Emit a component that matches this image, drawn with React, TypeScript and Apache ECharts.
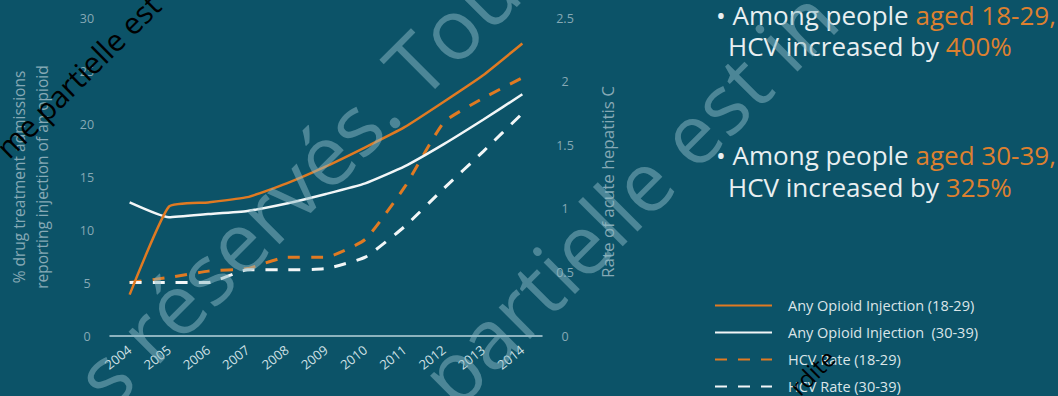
import React, { useEffect, useRef } from "react";
import * as echarts from "echarts";

const years = ["2004", "2005", "2006", "2007", "2008", "2009", "2010", "2011", "2012", "2013", "2014"];
const opioid1829 = [3.9, 12.2, 12.6, 13.1, 14.4, 16.0, 17.8, 19.7, 22.1, 24.6, 27.6];
const opioid3039 = [12.6, 11.2, 11.5, 11.8, 12.5, 13.4, 14.4, 16.0, 18.1, 20.4, 22.8];
const hcv1829 = [0.42, 0.46, 0.51, 0.53, 0.62, 0.62, 0.76, 1.17, 1.68, 1.87, 2.03];
const hcv3039 = [0.42, 0.42, 0.42, 0.52, 0.52, 0.53, 0.62, 0.86, 1.16, 1.45, 1.75];

const seriesNames = [
  "Any Opioid Injection (18-29)",
  "Any Opioid Injection  (30-39)",
  "HCV Rate (18-29)",
  "HCV Rate (30-39)",
];

const leftAxisName = "% drug treatment admissions\nreporting injection of an opioid";
const rightAxisName = "Rate of acute hepatitis C";

const ORANGE = "#e07a22";
const WHITE = "#f2f6f7";
const BG = "#0c5368";
const MUTED = "#86a9b5";
const FONT = "'Open Sans', 'Noto Sans', sans-serif";

const calloutRich = {
  w: { fill: "#e9eff1", color: "#e9eff1", fontSize: 26, fontFamily: FONT },
  o: { fill: "#dd802f", color: "#dd802f", fontSize: 26, fontFamily: FONT },
};

function callout(text: string, x: number, y: number) {
  return {
    type: "text",
    x,
    y,
    z: 50,
    style: {
      text,
      textVerticalAlign: "middle",
      textAlign: "left",
      font: `26px ${FONT}`,
      rich: calloutRich,
    },
  };
}

function mark(text: string, x: number, y: number, size: number, rot: number, fill: string) {
  return {
    type: "text",
    x,
    y,
    z: 95,
    rotation: rot,
    silent: true,
    style: {
      text,
      textAlign: "center",
      textVerticalAlign: "middle",
      font: `${size}px ${FONT}`,
      fill,
    },
  };
}

export default function App() {
  const ref = useRef<HTMLDivElement>(null);

  useEffect(() => {
    if (!ref.current) return;
    const chart = echarts.init(ref.current, null, { renderer: "svg" });
    const dash = [12, 11];
    const smooth = 0.15;
    const option: any = {
      animation: false,
      backgroundColor: BG,
      textStyle: { fontFamily: FONT },
      grid: { left: 110, right: 516, top: 18, bottom: 60, containLabel: false, outerBoundsMode: "none" },
      legend: {
        orient: "vertical",
        left: 714,
        top: 298,
        padding: 0,
        itemWidth: 57,
        itemHeight: 14,
        itemGap: 12,
        data: seriesNames,
        itemStyle: { opacity: 0 },
        textStyle: { color: "#dbe5e8", fontSize: 14.5, fontFamily: FONT, padding: [0, 0, 0, 11] },
      },
      xAxis: {
        type: "category",
        data: years,
        boundaryGap: true,
        axisLine: { show: true, lineStyle: { color: "#b8d3db", width: 1.5 } },
        axisTick: { show: false },
        axisLabel: { rotate: 38, interval: 0, margin: 12, color: "#cfe0e5", fontSize: 13, fontFamily: FONT },
        splitLine: { show: false },
      },
      yAxis: [
        {
          type: "value",
          min: 0,
          max: 30,
          interval: 5,
          position: "left",
          axisLine: { show: false },
          axisTick: { show: false },
          splitLine: { show: false },
          axisLabel: { color: MUTED, fontSize: 12.5, margin: 23, align: "center", fontFamily: FONT },
          name: leftAxisName,
          nameLocation: "middle",
          nameGap: 57,
          nameRotate: 90,
          nameTextStyle: { color: MUTED, fontSize: 15.5, lineHeight: 23, fontFamily: FONT },
        },
        {
          type: "value",
          min: 0,
          max: 2.5,
          interval: 0.5,
          position: "right",
          axisLine: { show: false },
          axisTick: { show: false },
          splitLine: { show: false },
          axisLabel: { color: MUTED, fontSize: 12.5, margin: 23, align: "center", fontFamily: FONT },
          name: rightAxisName,
          nameLocation: "middle",
          nameGap: 57,
          nameRotate: 90,
          nameTextStyle: { color: MUTED, fontSize: 17, fontFamily: FONT, padding: [0, 10, 0, 0] },
        },
      ],
      series: [
        {
          name: seriesNames[2],
          type: "line",
          yAxisIndex: 1,
          data: hcv1829,
          symbol: "none",
          smooth,
          lineStyle: { color: ORANGE, width: 3, type: dash },
          itemStyle: { color: ORANGE },
        },
        {
          name: seriesNames[3],
          type: "line",
          yAxisIndex: 1,
          data: hcv3039,
          symbol: "none",
          smooth,
          lineStyle: { color: WHITE, width: 3, type: dash },
          itemStyle: { color: WHITE },
        },
        {
          name: seriesNames[1],
          type: "line",
          yAxisIndex: 0,
          data: opioid3039,
          symbol: "none",
          smooth,
          lineStyle: { color: WHITE, width: 2.5 },
          itemStyle: { color: WHITE },
        },
        {
          name: seriesNames[0],
          type: "line",
          yAxisIndex: 0,
          data: opioid1829,
          symbol: "none",
          smooth,
          lineStyle: { color: ORANGE, width: 2.5 },
          itemStyle: { color: ORANGE },
        },
      ],
      graphic: [
        callout("{w|• Among people }{o|aged 18-29,}", 716, 15),
        callout("{w|HCV increased by }{o|400%}", 728, 46),
        callout("{w|• Among people }{o|aged 30-39,}", 716, 155),
        callout("{w|HCV increased by }{o|325%}", 728, 187),
        mark("s réservés. Tous", 310, 168, 84, Math.PI / 4, "rgba(140,185,198,0.5)"),
        mark("partielle est in", 627, 196, 83, Math.PI / 4, "rgba(140,185,198,0.5)"),
        mark("me partielle est", 78, 76, 30, 0.78, "#000000"),
        mark("rdite", 812, 372, 24, Math.PI / 4, "#000000"),
      ],
    };
    chart.setOption(option);
    return () => chart.dispose();
  }, []);

  return <div ref={ref} style={{ position: "absolute", left: 0, top: 0, width: 1058, height: 396 }} />;
}
